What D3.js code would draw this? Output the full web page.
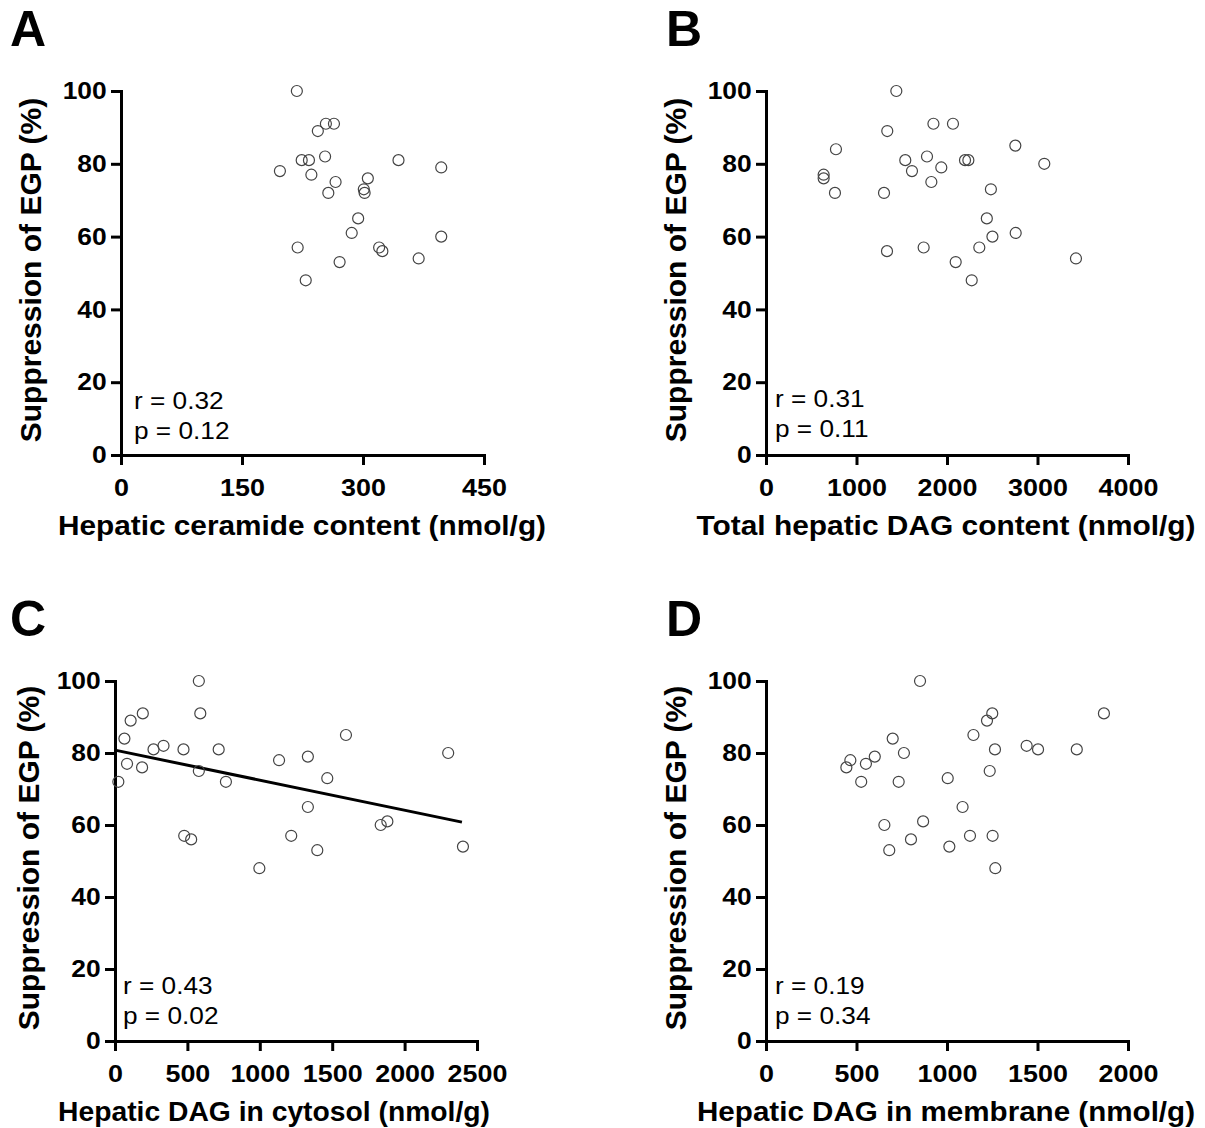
<!DOCTYPE html>
<html>
<head>
<meta charset="utf-8">
<script src="https://cdn.jsdelivr.net/npm/d3@7"></script>
<style>
  body { margin: 0; background: #fff; }
  svg { display: block; font-family: "Liberation Sans", Arial, Helvetica, sans-serif; }
</style>
</head>
<body>
<svg id="chart" width="1205" height="1128"></svg>
<script>
// ---------------- DATA ----------------
const yTicks = [0, 20, 40, 60, 80, 100];
const yTitle = "Suppression of EGP (%)";

// Panel A: hepatic ceramide
const aX = [218,254,264,244,224,233,253,344,397,197,236,266,306,301,302,257,294,286,397,219,320,324,369,271,229];
const aY = [100,91,91,89,81,81,82,81,79,78,77,75,76,73,72,72,65,61,60,57,57,56,54,53,48];
const aTicks = [0, 150, 300, 450];
const aTitle = "Hepatic ceramide content (nmol/g)";
const aStats = ["r = 0.32", "p = 0.12"];

// Panel B: total hepatic DAG
const bX = [1440,1850,2066,1340,773,2755,1539,1779,2199,2236,3075,1937,1613,637,637,1827,762,1304,2485,2440,2502,2759,1337,1742,2357,2096,2273,3425];
const bY = [100,91,91,89,84,85,81,82,81,81,80,79,78,77,76,75,72,72,73,65,60,61,56,57,57,53,48,54];
const bTicks = [0, 1000, 2000, 3000, 4000];
const bTitle = "Total hepatic DAG content (nmol/g)";
const bStats = ["r = 0.31", "p = 0.11"];

// Panel C: DAG in cytosol
const cX = [579,589,192,108,65,1595,266,335,473,716,2301,1133,1332,83,187,579,23,766,1466,1332,1835,1881,478,526,1217,1397,2403,997];
const cY = [100,91,91,89,84,85,81,82,81,81,80,78,79,77,76,75,72,72,73,65,60,61,57,56,57,53,54,48];
const cTicks = [0, 500, 1000, 1500, 2000, 2500];
const cTitle = "Hepatic DAG in cytosol (nmol/g)";
const cStats = ["r = 0.43", "p = 0.02"];
const cFit = { intercept: 80.8, slope: -0.00835, xStart: 0, xEnd: 2396 };

// Panel D: DAG in membrane
const dX = [851,1250,1867,1221,1146,700,1265,1440,1503,1717,762,601,466,552,444,1236,526,733,1004,1086,654,868,801,1127,1252,681,1013,1267];
const dY = [100,91,91,89,85,84,81,82,81,81,80,79,78,77,76,75,72,72,73,65,60,61,56,57,57,53,54,48];
const dTicks = [0, 500, 1000, 1500, 2000];
const dTitle = "Hepatic DAG in membrane (nmol/g)";
const dStats = ["r = 0.19", "p = 0.34"];

// ---------------- LAYOUT ----------------
const panels = [
  { letter: "A", xs: aX, ys: aY, ticks: aTicks, title: aTitle, stats: aStats,
    x0: 121, x1: 484, y0: 455, y1: 91, lx: 10, ly: 46, yTitleX: 30, statsX: 134, statsY: 409,
    titleCx: 302, titleW: 488 },
  { letter: "B", xs: bX, ys: bY, ticks: bTicks, title: bTitle, stats: bStats,
    x0: 766, x1: 1128, y0: 455, y1: 91, lx: 666, ly: 46, yTitleX: 675, statsX: 775, statsY: 407,
    titleCx: 946, titleW: 499 },
  { letter: "C", xs: cX, ys: cY, ticks: cTicks, title: cTitle, stats: cStats, fit: cFit,
    x0: 115, x1: 477, y0: 1041, y1: 681, lx: 10, ly: 636, yTitleX: 28, statsX: 123, statsY: 994,
    titleCx: 274, titleW: 432 },
  { letter: "D", xs: dX, ys: dY, ticks: dTicks, title: dTitle, stats: dStats,
    x0: 766, x1: 1128, y0: 1041, y1: 681, lx: 666, ly: 636, yTitleX: 675, statsX: 775, statsY: 994,
    titleCx: 946, titleW: 498 }
];

const svg = d3.select("#chart");

panels.forEach(p => {
  const g = svg.append("g");
  const x = d3.scaleLinear().domain([p.ticks[0], p.ticks[p.ticks.length - 1]]).range([p.x0, p.x1]);
  const y = d3.scaleLinear().domain([0, 100]).range([p.y0, p.y1]);

  // panel letter
  g.append("text").attr("x", p.lx).attr("y", p.ly)
    .attr("font-size", 50).attr("font-weight", "bold").text(p.letter);

  // x axis
  const xa = g.append("g").attr("transform", `translate(0,${p.y0})`)
    .call(d3.axisBottom(x).tickValues(p.ticks).tickSize(10).tickSizeOuter(0).tickPadding(14).tickFormat(d3.format("d")));
  // y axis
  const ya = g.append("g").attr("transform", `translate(${p.x0},0)`)
    .call(d3.axisLeft(y).tickValues(yTicks).tickSize(10).tickSizeOuter(0).tickPadding(4).tickFormat(d3.format("d")));

  [xa, ya].forEach(a => {
    a.select(".domain").attr("stroke", "#000").attr("stroke-width", 3).attr("stroke-linecap", "square");
    a.selectAll(".tick line").attr("stroke", "#000").attr("stroke-width", 3);
    a.selectAll(".tick text").attr("font-size", 24).attr("font-weight", "bold")
      .attr("font-family", "'Liberation Sans', Arial, sans-serif").attr("fill", "#000");
  });
  xa.selectAll(".tick text").attr("transform", "scale(1.12,1)");
  ya.selectAll(".tick text").attr("x", -13).attr("transform", "scale(1.1,1)");

  // axis titles
  g.append("text").attr("x", p.titleCx)
    .attr("y", p.y0 + 80).attr("text-anchor", "middle")
    .attr("textLength", p.titleW).attr("lengthAdjust", "spacingAndGlyphs")
    .attr("font-size", 27).attr("font-weight", "bold").text(p.title);
  g.append("text")
    .attr("transform", `translate(${p.yTitleX + 11},${(p.y0 + p.y1) / 2 - 3}) rotate(-90)`)
    .attr("text-anchor", "middle")
    .attr("font-size", 30).attr("font-weight", "bold").text(yTitle);

  // regression line
  if (p.fit) {
    const f = p.fit;
    const pts = [f.xStart, f.xEnd].map(v => [x(v), y(f.intercept + f.slope * v)]);
    g.append("path").attr("d", d3.line()(pts))
      .attr("stroke", "#000").attr("stroke-width", 3).attr("fill", "none");
  }

  // points
  g.append("g").selectAll("circle").data(p.xs.map((v, i) => [v, p.ys[i]])).join("circle")
    .attr("cx", d => x(d[0])).attr("cy", d => y(d[1])).attr("r", 5.5)
    .attr("fill", "none").attr("stroke", "#444").attr("stroke-width", 1.2);

  // stats text
  p.stats.forEach((s, i) => {
    g.append("text").attr("transform", `translate(${p.statsX},${p.statsY + i * 30}) scale(1.14,1)`)
      .attr("font-size", 23).attr("fill", "#000").text(s);
  });
});
</script>
</body>
</html>
